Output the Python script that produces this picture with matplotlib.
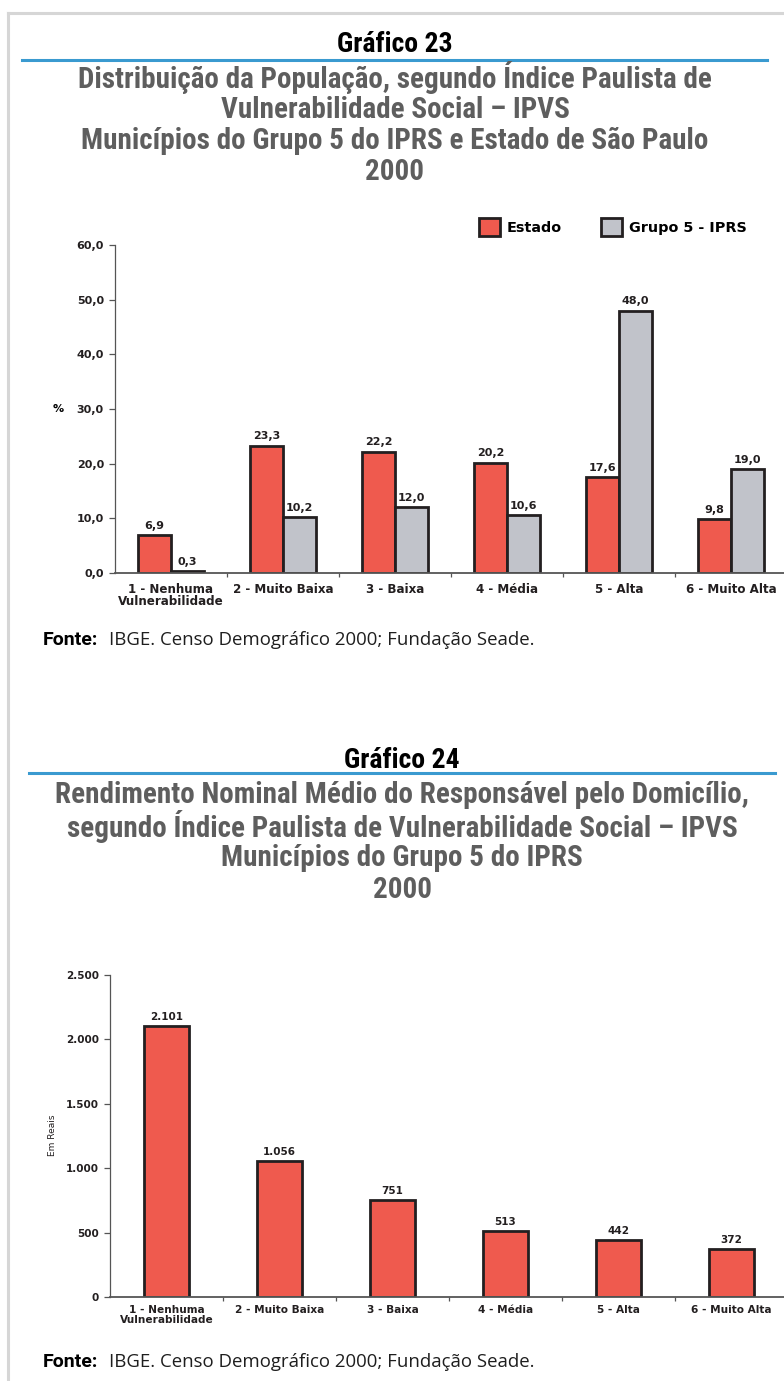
import matplotlib
matplotlib.use('Agg')
import matplotlib.pyplot as plt
from matplotlib import font_manager
from matplotlib.lines import Line2D


def pick_font(*names):
    # first installed family from the list
    for name in names:
        try:
            font_manager.findfont(font_manager.FontProperties(family=name), fallback_to_default=False)
            return name
        except ValueError:
            pass
    return 'DejaVu Sans'


NARROW = pick_font('Liberation Sans Narrow', 'Roboto Condensed', 'Open Sans Condensed', 'Roboto')
SOURCE = pick_font('Open Sans', 'Noto Sans', 'Roboto')
SOURCE_BOLD = pick_font('Roboto', 'Open Sans')
LABEL = 'DejaVu Sans'

# Data
categories = ['1 - Nenhuma\nVulnerabilidade', '2 - Muito Baixa', '3 - Baixa',
              '4 - Média', '5 - Alta', '6 - Muito Alta']
estado = [6.9, 23.3, 22.2, 20.2, 17.6, 9.8]
grupo5 = [0.3, 10.2, 12.0, 10.6, 48.0, 19.0]
rendimento = [2101, 1056, 751, 513, 442, 372]

yticks_pct = [0, 10, 20, 30, 40, 50, 60]
yticks_reais = [0, 500, 1000, 1500, 2000, 2500]

RED = '#EF5A4E'
GRAY = '#C1C3CA'
EDGE = '#231F20'
AXIS = '#555555'
TITLE_GRAY = '#5E5E5E'
BLUE = '#3A9AD0'

W, H = 784, 1381
fig = plt.figure(figsize=(W / 100, H / 100), dpi=100)


def fx(px):
    return px / W


def fy(py):
    return 1 - py / H


def hline(x0, x1, y, color, lw):
    fig.add_artist(Line2D([fx(x0), fx(x1)], [fy(y), fy(y)], color=color, lw=lw,
                          transform=fig.transFigure))


# page border
fig.add_artist(Line2D([fx(8), fx(8)], [fy(13), 0], color='#D6D6D6', lw=2.2, transform=fig.transFigure))
hline(8, W, 13, '#D6D6D6', 2.2)


def header(num, lines, y_num, y_line, y_first, x_line, cx):
    fig.text(fx(cx), fy(y_num), f'Gráfico {num}', ha='center', va='center',
             fontsize=20, fontweight='bold', family=NARROW, color='black')
    hline(x_line[0], x_line[1], y_line, BLUE, 2.2)
    for i, t in enumerate(lines):
        fig.text(fx(cx), fy(y_first + i * 31.5), t, ha='center', va='center',
                 fontsize=21, fontweight='bold', family=NARROW, color=TITLE_GRAY)


def fonte(y):
    fig.text(fx(43), fy(y), 'Fonte:', ha='left', va='center', fontsize=14,
             fontweight='bold', family=SOURCE_BOLD, color='black')
    fig.text(fx(109), fy(y), 'IBGE. Censo Demográfico 2000; Fundação Seade.', ha='left',
             va='center', fontsize=13.4, family=SOURCE, color='#1E1E1E')


def style_axes(ax, xsize, ysize, pad):
    ax.spines[['top', 'right']].set_visible(False)
    ax.spines['left'].set_color(AXIS)
    ax.spines['left'].set_linewidth(0.9)
    ax.spines['bottom'].set_color(AXIS)
    ax.spines['bottom'].set_linewidth(1.3)
    ax.set_xlim(-0.5, 5.5)
    ax.set_xticks(range(len(categories)))
    ax.set_xticklabels(categories, fontsize=xsize, fontweight='bold', family=LABEL,
                       color='#231F20', linespacing=0.9)
    ax.set_xticks([i + 0.5 for i in range(len(categories) - 1)], minor=True)
    ax.tick_params(axis='x', which='major', length=0, pad=pad)
    ax.tick_params(axis='x', which='minor', length=3, width=0.9, color=AXIS, direction='out')
    ax.tick_params(axis='y', length=4, width=0.9, color=AXIS, pad=4)
    for lbl in ax.get_yticklabels():
        lbl.set_fontsize(ysize)
        lbl.set_fontweight('bold')
        lbl.set_family(LABEL)
        lbl.set_color('#231F20')


# ---------------- Gráfico 23 ----------------
header(23, ['Distribuição da População, segundo Índice Paulista de',
            'Vulnerabilidade Social – IPVS',
            'Municípios do Grupo 5 do IPRS e Estado de São Paulo',
            '2000'], 45, 60, 78, (22, 767), 395)

ax1 = fig.add_axes([fx(115), fy(573), 672 / W, 328 / H])
x = list(range(len(categories)))
bw = 0.295
b1 = ax1.bar([i - bw / 2 for i in x], estado, bw, color=RED, edgecolor=EDGE, linewidth=2.0,
             label='Estado')
b2 = ax1.bar([i + bw / 2 for i in x], grupo5, bw, color=GRAY, edgecolor=EDGE, linewidth=2.0,
             label='Grupo 5 - IPRS')
ax1.set_ylim(0, 60)
ax1.set_yticks(yticks_pct)
ax1.set_yticklabels([f'{v:.1f}'.replace('.', ',') for v in yticks_pct])
style_axes(ax1, 8.6, 8, 7)
for bars in (b1, b2):
    ax1.bar_label(bars, fmt=lambda v: f'{v:.1f}'.replace('.', ','), padding=3,
                  fontsize=8, fontweight='bold', family=LABEL, color='#231F20')
ax1.set_ylabel('%', rotation=0, fontsize=8, fontweight='bold', family=LABEL, va='center')
ax1.yaxis.set_label_coords(-0.085, 0.5)
fig.legend(handles=[b1, b2], loc='center left', bbox_to_anchor=(fx(479), fy(227)),
           ncol=2, frameon=False, borderpad=0, borderaxespad=0, handlelength=1.45,
           handleheight=1.45, handletextpad=0.45, columnspacing=2.75,
           prop={'family': LABEL, 'weight': 'bold', 'size': 10.4})
fonte(640)

# ---------------- Gráfico 24 ----------------
header(24, ['Rendimento Nominal Médio do Responsável pelo Domicílio,',
            'segundo Índice Paulista de Vulnerabilidade Social – IPVS',
            'Municípios do Grupo 5 do IPRS',
            '2000'], 760, 773, 795, (29, 775), 402)

ax2 = fig.add_axes([fx(110), fy(1297), 678 / W, 322 / H])
b3 = ax2.bar(x, rendimento, 0.4, color=RED, edgecolor=EDGE, linewidth=2.0)
ax2.set_ylim(0, 2500)
ax2.set_yticks(yticks_reais)
ax2.set_yticklabels([f'{v:,.0f}'.replace(',', '.') for v in yticks_reais])
style_axes(ax2, 7.6, 7.5, 6)
ax2.bar_label(b3, fmt=lambda v: f'{v:,.0f}'.replace(',', '.'), padding=3,
              fontsize=7.5, fontweight='bold', family=LABEL, color='#231F20')
ax2.set_ylabel('Em Reais', fontsize=6.5, family=LABEL, color='#231F20')
ax2.yaxis.set_label_coords(-0.078, 0.503)
fonte(1362)

fig.savefig('out.png', dpi=100)
